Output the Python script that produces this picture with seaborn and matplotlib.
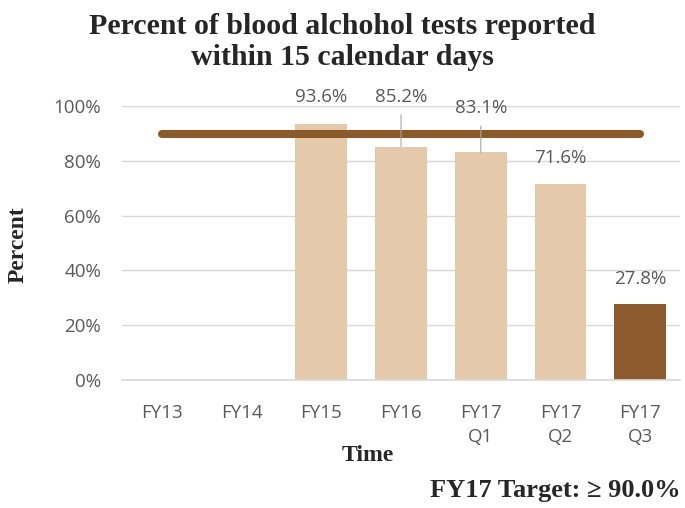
import matplotlib
matplotlib.use("Agg")
from matplotlib import pyplot as plt
import numpy as np
import pandas as pd
import seaborn as sns

# data
categories = ["FY13", "FY14", "FY15", "FY16", "FY17\nQ1", "FY17\nQ2", "FY17\nQ3"]
percent = [np.nan, np.nan, 93.6, 85.2, 83.1, 71.6, 27.8]
target = 90.0
bar_colors = ["#E6C9AB", "#E6C9AB", "#E6C9AB", "#E6C9AB", "#E6C9AB", "#E6C9AB", "#8E5B2E"]
# label offsets (points) - two labels are pushed up with a leader line
label_offsets = [0, 0, 19, 36, 32, 19, 18]

sns.set_theme(style="whitegrid")
serif = ["Liberation Serif", "DejaVu Serif"]
sans = ["Open Sans", "DejaVu Sans"]
grey = "#595959"

df = pd.DataFrame({"cat": categories, "pct": percent})

fig = plt.figure(figsize=(6.85, 5.08), dpi=100)
ax = fig.add_axes([0.178, 0.252, 0.815, 0.539])

sns.barplot(data=df, x="cat", y="pct", hue="cat", palette=bar_colors,
            width=0.65, legend=False, ax=ax, saturation=1, linewidth=0, zorder=2)

# target line
ax.plot([0, len(categories) - 1], [target, target], color="#8B5A2B",
        linewidth=5.8, solid_capstyle="round", zorder=3)

for i, v in enumerate(percent):
    if np.isnan(v):
        continue
    off = label_offsets[i]
    ax.annotate(f"{v:.1f}%", (i, v), xytext=(0, off), textcoords="offset points",
                ha="center", va="center", fontsize=13.5, color=grey,
                family=sans, annotation_clip=False, zorder=4)
    if off > 20:
        # leader line from label to bar top
        ax.annotate("", (i, v), xytext=(0, off - 13), textcoords="offset points",
                    arrowprops=dict(arrowstyle="-", color="#A6A6A6", lw=0.8,
                                    shrinkA=0, shrinkB=0), zorder=4)

ax.set_ylim(0, 100)
ax.set_xlim(-0.5, len(categories) - 0.5)
ax.set_yticks(np.arange(0, 101, 20))
ax.set_yticklabels([f"{t}%" for t in range(0, 101, 20)])
ax.grid(axis="y", color="#D9D9D9", linewidth=1)
ax.grid(axis="x", visible=False)
for s in ["top", "right", "left"]:
    ax.spines[s].set_visible(False)
ax.spines["bottom"].set_color("#D9D9D9")
ax.tick_params(axis="both", length=0, colors=grey, labelsize=13.5)
ax.tick_params(axis="y", pad=15)
ax.tick_params(axis="x", pad=17)
for lab in ax.get_xticklabels() + ax.get_yticklabels():
    lab.set_family(sans)
for lab in ax.get_xticklabels():
    lab.set_linespacing(1.45)
ax.set_xlabel("")
ax.set_ylabel("")

fig.text(0.5, 0.918, "Percent of blood alchohol tests reported\nwithin 15 calendar days",
         ha="center", va="center", fontsize=21.5, fontweight="bold", family=serif,
         linespacing=1.2)
fig.text(0.027, 0.518, "Percent", rotation=90, ha="center", va="center",
         fontsize=17, fontweight="bold", family=serif)
fig.text(0.537, 0.104, "Time", ha="center", va="center",
         fontsize=17, fontweight="bold", family=serif)
fig.text(0.993, 0.035, "FY17 Target: \u2265 90.0%", ha="right", va="center",
         fontsize=19, fontweight="bold", family=serif)

fig.savefig("out.png", dpi=100)
